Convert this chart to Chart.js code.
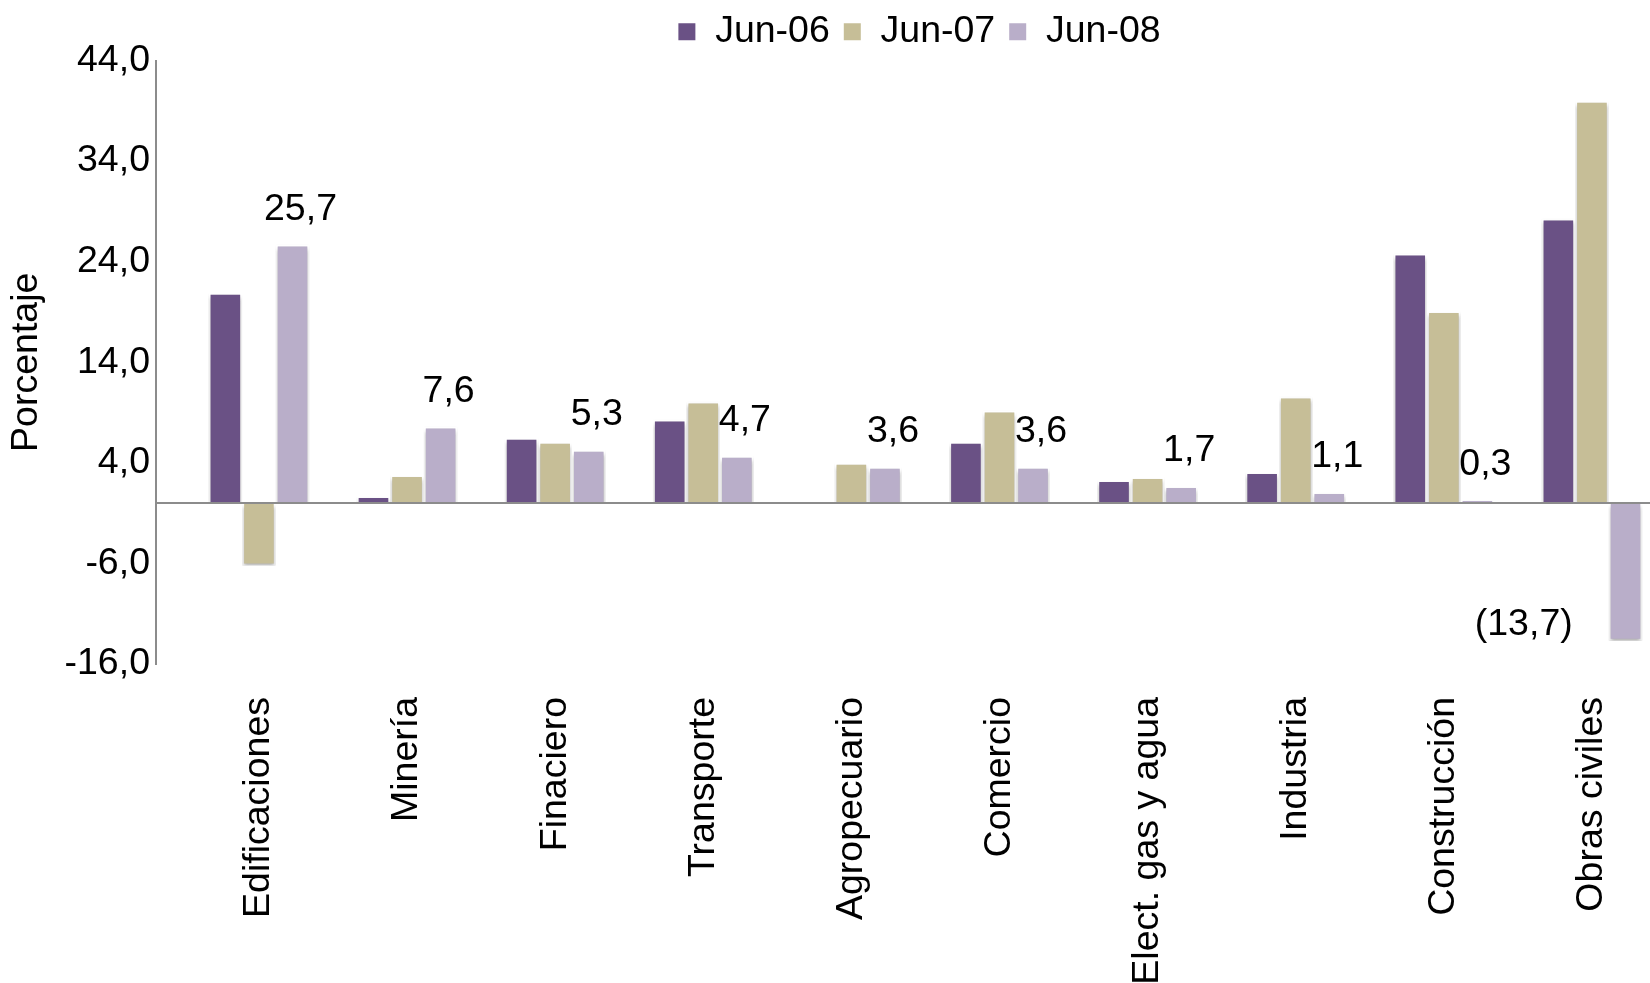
<!DOCTYPE html>
<html>
<head>
<meta charset="utf-8">
<script src="https://cdn.jsdelivr.net/npm/chart.js@4"></script>
<style>
html, body { margin: 0; padding: 0; background: #fff; }
#wrap { width: 1650px; height: 983px; }
</style>
</head>
<body>
<div id="wrap"><canvas id="myChart" width="1650" height="983"></canvas></div>
<script>
var categories = ['Edificaciones', 'Minería', 'Finaciero', 'Transporte', 'Agropecuario',
    'Comercio', 'Elect. gas y agua', 'Industria', 'Construcción', 'Obras civiles'];
var jun06 = [20.9, 0.7, 6.5, 8.3, 0.0, 6.1, 2.3, 3.1, 24.8, 28.3];
var jun07 = [-6.2, 2.8, 6.1, 10.1, 4.0, 9.2, 2.6, 10.6, 19.1, 40.0];
var jun08 = [25.7, 7.6, 5.3, 4.7, 3.6, 3.6, 1.7, 1.1, 0.3, -13.7];
var yTicks = [-16, -6, 0, 4, 14, 24, 34, 44];

var FONT = 'Liberation Sans, Arial, sans-serif';
var FS = 37.5;

function toPoints(arr) {
    return arr.map(function(v, i) { return { x: i, y: v }; });
}

function fmt(v) {
    var s = Math.abs(v).toFixed(1).replace('.', ',');
    return v < 0 ? '(' + s + ')' : s;
}

// bar shadows like the original
var shadowPlugin = {
    id: 'barShadow',
    beforeDatasetsDraw: function(chart) {
        var c = chart.ctx;
        c.save();
        c.shadowColor = 'rgba(0,0,0,0.3)';
        c.shadowBlur = 4;
        c.shadowOffsetY = 3;
    },
    afterDatasetsDraw: function(chart) {
        chart.ctx.restore();
    }
};

// value labels for the Jun-08 series
var labelPlugin = {
    id: 'valueLabels',
    afterDatasetsDraw: function(chart) {
        var c = chart.ctx;
        var meta = chart.getDatasetMeta(2);
        c.save();
        c.font = FS + 'px ' + FONT;
        c.fillStyle = '#000';
        c.textBaseline = 'middle';
        meta.data.forEach(function(bar, i) {
            var v = jun08[i];
            if (v >= 0) {
                c.textAlign = 'center';
                c.fillText(fmt(v), bar.x + 8, bar.y - 35);
            } else {
                c.textAlign = 'right';
                c.fillText(fmt(v), bar.x - bar.width / 2 - 36, bar.y - 16);
            }
        });
        c.restore();
    }
};

// center legend over the plot area
var legendShift = {
    id: 'legendShift',
    afterLayout: function(chart) {
        var lg = chart.legend;
        var d = 94;
        lg.left += d;
        lg.right += d;
    }
};

var ctx = document.getElementById('myChart').getContext('2d');
var myChart = new Chart(ctx, {
    type: 'bar',
    data: {
        datasets: [
            { label: 'Jun-06', data: toPoints(jun06), backgroundColor: '#6a5185', borderColor: '#ffffff', borderWidth: 2 },
            { label: 'Jun-07', data: toPoints(jun07), backgroundColor: '#c6be97', borderColor: '#ffffff', borderWidth: 2 },
            { label: 'Jun-08', data: toPoints(jun08), backgroundColor: '#b9aec9', borderColor: '#ffffff', borderWidth: 2 }
        ]
    },
    options: {
        responsive: false,
        animation: false,
        categoryPercentage: 0.68,
        barPercentage: 1.0,
        layout: { padding: { top: 0, right: 0, left: 0, bottom: 0 } },
        scales: {
            x: {
                type: 'linear',
                offset: false,
                min: -0.695,
                max: 9.392,
                grid: { display: false, drawTicks: false },
                border: { display: false },
                afterBuildTicks: function(scale) {
                    scale.ticks = categories.map(function(c, i) { return { value: i }; });
                },
                afterFit: function(scale) {
                    scale.height = 319;
                    scale.paddingLeft = 0;
                    scale.paddingRight = 0;
                },
                ticks: {
                    autoSkip: false,
                    maxRotation: 90,
                    minRotation: 90,
                    padding: 33,
                    color: '#000',
                    font: { family: FONT, size: FS },
                    callback: function(v, i) { return categories[i]; }
                }
            },
            y: {
                min: -16,
                max: 44,
                afterBuildTicks: function(scale) {
                    scale.ticks = yTicks.map(function(v) { return { value: v }; });
                },
                afterFit: function(scale) { scale.width = 156; },
                grid: {
                    drawTicks: false,
                    lineWidth: 2,
                    color: function(c) { return c.tick && c.tick.value === 0 ? '#8c8c8c' : 'rgba(0,0,0,0)'; }
                },
                border: { display: true, color: '#8c8c8c', width: 2 },
                ticks: {
                    padding: 6,
                    color: '#000',
                    font: { family: FONT, size: FS },
                    callback: function(v) { return v === 0 ? '' : v.toFixed(1).replace('.', ','); }
                },
                title: {
                    display: true,
                    text: 'Porcentaje',
                    color: '#000',
                    font: { family: FONT, size: FS },
                    padding: { top: 4, bottom: 0 }
                }
            }
        },
        plugins: {
            legend: {
                position: 'top',
                labels: {
                    boxWidth: 19,
                    boxHeight: 19,
                    padding: 13,
                    color: '#000',
                    font: { family: FONT, size: FS }
                }
            },
            tooltip: { enabled: false }
        }
    },
    plugins: [shadowPlugin, labelPlugin, legendShift]
});
</script>
</body>
</html>
